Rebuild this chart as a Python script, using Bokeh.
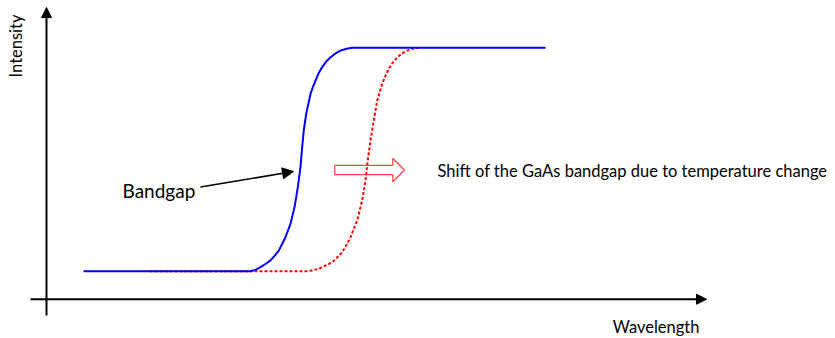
import math
from bokeh.plotting import figure
from bokeh.models import Range1d, Arrow, NormalHead, Label
from bokeh.embed import file_html
from bokeh.resources import INLINE

# ---- data (wavelength in arbitrary units, intensity normalised) ----
blue_wavelength = [5.61, 30.91, 31.67, 32.42, 33.18, 33.94, 34.55, 35.20, 35.68, 36.21,
                   36.59, 36.97, 37.58, 38.08, 38.48, 38.74, 38.98, 39.35, 40.00, 40.38,
                   40.76, 41.21, 41.77, 42.35, 43.03, 43.79, 44.55, 45.45, 46.32, 75.61]
blue_intensity = [0.100, 0.100, 0.105, 0.115, 0.126, 0.139, 0.155, 0.174, 0.197, 0.222,
                  0.246, 0.270, 0.329, 0.401, 0.473, 0.544, 0.604, 0.664, 0.735, 0.760,
                  0.783, 0.808, 0.831, 0.850, 0.866, 0.880, 0.890, 0.897, 0.900, 0.900]

red_wavelength = [15.61, 39.24, 40.15, 41.26, 43.29, 44.02, 44.80, 45.45, 46.06, 47.08,
                  47.83, 48.33, 48.68, 49.09, 49.59, 50.11, 50.86, 51.36, 51.86, 52.50,
                  53.14, 53.86, 54.65, 55.45, 56.41]
red_intensity = [0.100, 0.100, 0.103, 0.109, 0.132, 0.149, 0.168, 0.194, 0.222, 0.282,
                 0.353, 0.425, 0.497, 0.568, 0.640, 0.711, 0.771, 0.800, 0.825, 0.848,
                 0.866, 0.880, 0.890, 0.897, 0.900]

x_label = "Wavelength"
y_label = "Intensity"
bandgap_label = "Bandgap"
shift_label = "Shift of the GaAs bandgap due to temperature change"

# shift arrow (hollow block arrow) parameters, data units
shift_tail = 43.68
shift_tip = 54.24
shift_head_base = 52.47
shift_level = 0.4626
shift_shaft_half = 0.01665
shift_head_half = 0.0419

FONT = "Lato"

p = figure(width=835, height=338, output_backend="svg", toolbar_location=None,
           x_range=Range1d(-6.97, 119.55), y_range=Range1d(-0.1407, 1.0695),
           x_axis_type=None, y_axis_type=None, min_border=0)
p.outline_line_color = None
p.background_fill_color = "white"
p.border_fill_color = "white"

# hollow block arrow
ax = [shift_tail, shift_head_base, shift_head_base, shift_tip,
      shift_head_base, shift_head_base, shift_tail]
ay = [shift_level + shift_shaft_half, shift_level + shift_shaft_half,
      shift_level + shift_head_half, shift_level,
      shift_level - shift_head_half, shift_level - shift_shaft_half,
      shift_level - shift_shaft_half]
p.patch(ax, ay, fill_color="white", line_color="#FF4A4A", line_width=1.3)

# curves
p.line(red_wavelength, red_intensity, line_color="#FF0000", line_width=2,
       line_dash="3 2")
p.line(blue_wavelength, blue_intensity, line_color="#0000FF", line_width=2)

# axes with arrow heads
p.add_layout(Arrow(x_start=0, y_start=-0.058, x_end=0, y_end=1.044,
                   line_width=2, line_color="black",
                   end=NormalHead(size=10, fill_color="black", line_color="black")))
p.add_layout(Arrow(x_start=-2.42, y_start=0, x_end=100, y_end=0,
                   line_width=2, line_color="black",
                   end=NormalHead(size=10, fill_color="black", line_color="black")))

# bandgap pointer
p.add_layout(Arrow(x_start=23.33, y_start=0.4017, x_end=37.42, y_end=0.4572,
                   line_width=1.6, line_color="black",
                   end=NormalHead(size=11, fill_color="black", line_color="black")))

# texts
p.add_layout(Label(x=-4.59, y=0.9066, text=y_label, angle=math.pi / 2,
                   text_align="center", text_baseline="alphabetic",
                   text_font=FONT, text_font_size="16.5px", text_color="black"))
p.add_layout(Label(x=98.94, y=-0.0994, text=x_label,
                   text_align="right", text_baseline="alphabetic",
                   text_font=FONT, text_font_size="16.5px", text_color="black"))
p.add_layout(Label(x=11.52, y=0.3881, text=bandgap_label,
                   text_align="left", text_baseline="alphabetic",
                   text_font=FONT, text_font_size="19px", text_color="black"))
p.add_layout(Label(x=59.24, y=0.4596, text=shift_label,
                   text_align="left", text_baseline="alphabetic",
                   text_font=FONT, text_font_size="16.5px", text_color="black"))

open("out.html", "w").write(file_html(p, INLINE))
